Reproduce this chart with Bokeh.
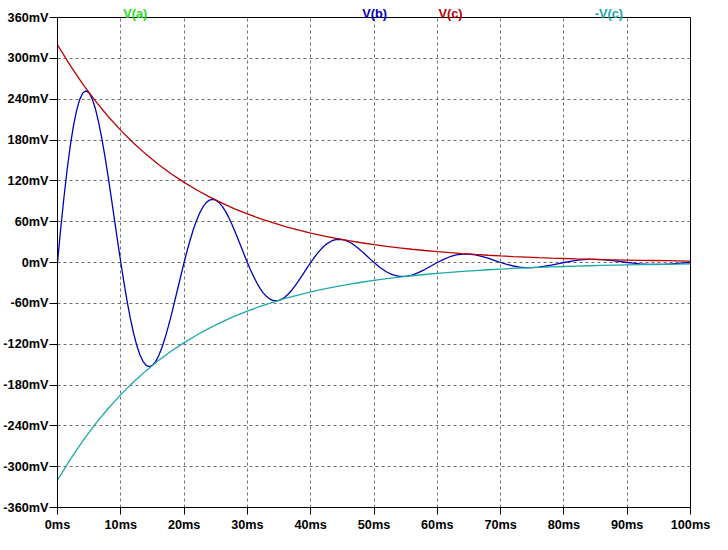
from bokeh.plotting import figure
from bokeh.models import Range1d, FixedTicker, ColumnDataSource
from bokeh.core.properties import value
from bokeh.embed import file_html
from bokeh.resources import INLINE

# ---- data (time in ms, voltage in mV) ----
t_b = [0, 0.5, 1, 1.5, 2, 2.5, 3, 3.5, 4, 4.5, 5, 5.5, 6, 6.5, 7, 7.5, 8, 8.5, 9, 9.5,
       10, 10.5, 11, 11.5, 12, 12.5, 13, 13.5, 14, 14.5, 15, 15.5, 16, 16.5, 17, 17.5, 18, 18.5, 19, 19.5,
       20, 20.5, 21, 21.5, 22, 22.5, 23, 23.5, 24, 24.5, 25, 25.5, 26, 26.5, 27, 27.5, 28, 28.5, 29, 29.5,
       30, 30.5, 31, 31.5, 32, 32.5, 33, 33.5, 34, 34.5, 35, 35.5, 36, 36.5, 37, 37.5, 38, 38.5, 39, 39.5,
       40, 40.5, 41, 41.5, 42, 42.5, 43, 43.5, 44, 44.5, 45, 45.5, 46, 46.5, 47, 47.5, 48, 48.5, 49, 49.5,
       50, 51, 52, 53, 54, 55, 56, 57, 58, 59,
       60, 61, 62, 63, 64, 65, 66, 67, 68, 69,
       70, 71, 72, 73, 74, 75, 76, 77, 78, 79,
       80, 81, 82, 83, 84, 85, 86, 87, 88, 89,
       90, 91, 92, 93, 94, 95, 96, 97, 98, 99, 100]
v_b = [0, 48.82, 94.06, 134.78, 170.19, 199.69, 222.83, 239.35, 249.17, 252.38,
       249.22, 240.07, 225.46, 206.01, 182.43, 155.51, 126.08, 94.98, 63.05, 31.13,
       0, -29.61, -57.05, -81.75, -103.23, -121.12, -135.15, -145.17, -151.13, -153.08,
       -151.16, -145.61, -136.75, -124.95, -110.65, -94.32, -76.47, -57.61, -38.24, -18.88,
       0, 17.96, 34.60, 49.58, 62.61, 73.46, 81.98, 88.05, 91.66, 92.85,
       91.68, 88.32, 82.94, 75.79, 67.11, 57.21, 46.38, 34.94, 23.19, 11.45,
       0, -10.89, -20.99, -30.07, -37.98, -44.56, -49.72, -53.41, -55.60, -56.32,
       -55.61, -53.57, -50.31, -45.97, -40.71, -34.70, -28.13, -21.19, -14.07, -6.95,
       0, 6.61, 12.73, 18.24, 23.03, 27.02, 30.16, 32.39, 33.72, 34.16,
       33.73, 32.49, 30.51, 27.88, 24.69, 21.05, 17.06, 12.85, 8.53, 4.21,
       0, -7.72, -13.97, -18.29, -20.45, -20.46, -18.51, -14.98, -10.35, -5.18,
       0, 4.68, 8.47, 11.10, 12.41, 12.41, 11.22, 9.08, 6.28, 3.14,
       0, -2.84, -5.14, -6.73, -7.52, -7.53, -6.81, -5.51, -3.81, -1.91,
       0, 1.72, 3.12, 4.08, 4.57, 4.57, 4.13, 3.34, 2.31, 1.16,
       0, -1.04, -1.89, -2.48, -2.77, -2.77, -2.51, -2.03, -1.40, -0.70, 0]

t_c = [0, 2, 4, 6, 8, 10, 12, 14, 16, 18, 20, 22, 24, 26, 28, 30, 32, 34, 36, 38,
       40, 42, 44, 46, 48, 50, 52, 54, 56, 58, 60, 62, 64, 66, 68, 70, 72, 74, 76, 78,
       80, 82, 84, 86, 88, 90, 92, 94, 96, 98, 100]
v_c = [320, 289.55, 261.99, 237.06, 214.50, 194.09, 175.62, 158.90, 143.78, 130.10,
       117.72, 106.52, 96.38, 87.21, 78.91, 71.40, 64.61, 58.46, 52.89, 47.86,
       43.31, 39.19, 35.46, 32.08, 29.03, 26.27, 23.77, 21.51, 19.46, 17.61,
       15.93, 14.42, 13.05, 11.80, 10.68, 9.66, 8.74, 7.91, 7.16, 6.48,
       5.86, 5.30, 4.80, 4.34, 3.93, 3.55, 3.21, 2.91, 2.63, 2.38, 2.15]
v_c_neg = [-320, -289.55, -261.99, -237.06, -214.50, -194.09, -175.62, -158.90, -143.78, -130.10,
           -117.72, -106.52, -96.38, -87.21, -78.91, -71.40, -64.61, -58.46, -52.89, -47.86,
           -43.31, -39.19, -35.46, -32.08, -29.03, -26.27, -23.77, -21.51, -19.46, -17.61,
           -15.93, -14.42, -13.05, -11.80, -10.68, -9.66, -8.74, -7.91, -7.16, -6.48,
           -5.86, -5.30, -4.80, -4.34, -3.93, -3.55, -3.21, -2.91, -2.63, -2.38, -2.15]

x_ticks = [0, 10, 20, 30, 40, 50, 60, 70, 80, 90, 100]
x_tick_labels = ["0ms", "10ms", "20ms", "30ms", "40ms", "50ms", "60ms", "70ms", "80ms", "90ms", "100ms"]
y_ticks = [360, 300, 240, 180, 120, 60, 0, -60, -120, -180, -240, -300, -360]
y_tick_labels = ["360mV", "300mV", "240mV", "180mV", "120mV", "60mV", "0mV", "-60mV",
                 "-120mV", "-180mV", "-240mV", "-300mV", "-360mV"]

trace_names = ["V(a)", "V(b)", "V(c)", "-V(c)"]
trace_label_x = [12.3, 50.1, 62.1, 87.1]
trace_colors = ["#22dd22", "#0000bb", "#bb0000", "#1ca8a8"]

FONT = "Liberation Sans"
FSIZE = "12.7px"

p = figure(width=712, height=534, x_range=Range1d(0, 100), y_range=Range1d(-360, 360),
           output_backend="svg", toolbar_location=None,
           min_border_left=56, min_border_right=22, min_border_top=17, min_border_bottom=26)
p.background_fill_color = "white"
p.border_fill_color = "white"
p.outline_line_color = "black"
p.outline_line_width = 1
p.outline_line_alpha = 1.0

for ax, ticks, labels, out, standoff in ((p.xaxis, x_ticks, x_tick_labels, 7, 3),
                                         (p.yaxis, y_ticks, y_tick_labels, 8, 1)):
    ax.ticker = FixedTicker(ticks=ticks)
    ax.major_label_overrides = dict(zip(ticks, labels))
    ax.minor_tick_line_color = None
    ax.major_tick_in = 0
    ax.major_tick_out = out
    ax.major_tick_line_color = "black"
    ax.axis_line_color = "black"
    ax.major_label_text_font = FONT
    ax.major_label_text_font_style = "bold"
    ax.major_label_text_font_size = FSIZE
    ax.major_label_text_color = "black"
    ax.major_label_standoff = standoff

p.xgrid.ticker = FixedTicker(ticks=x_ticks)
p.ygrid.ticker = FixedTicker(ticks=y_ticks)
p.grid.grid_line_color = "#707070"
p.grid.grid_line_dash = "3 3"
p.grid.grid_line_width = 1

# traces (V(a) lies beneath V(b) and is not visible)
p.line(t_b, v_b, line_color=trace_colors[1], line_width=1.3)
p.line(t_c, v_c, line_color=trace_colors[2], line_width=1.3)
p.line(t_c, v_c_neg, line_color=trace_colors[3], line_width=1.3)

# trace names on top of the frame
nsrc = ColumnDataSource(dict(x=trace_label_x, y=[360] * len(trace_names),
                             text=trace_names, color=trace_colors))
p.text(x="x", y="y", text="text", source=nsrc, text_color="color", y_offset=-4,
       text_align="center", text_baseline="alphabetic", text_font=value(FONT),
       text_font_style="bold", text_font_size=FSIZE, level="overlay")

open("out.html", "w").write(file_html(p, INLINE))
